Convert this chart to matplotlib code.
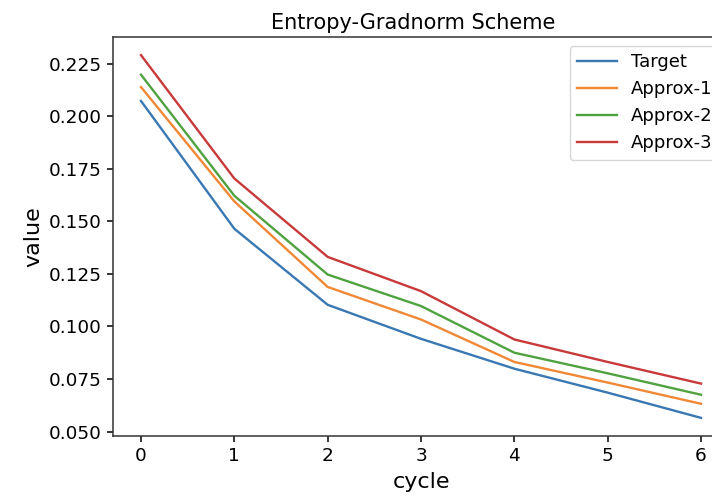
import matplotlib
matplotlib.use("Agg")
import matplotlib.pyplot as plt

cycles = [0, 1, 2, 3, 4, 5, 6]
target = [0.2073, 0.1465, 0.1103, 0.0941, 0.0799, 0.0685, 0.0565]
approx_1 = [0.2139, 0.1595, 0.1188, 0.1033, 0.0831, 0.0733, 0.0632]
approx_2 = [0.2198, 0.1622, 0.1247, 0.1097, 0.0875, 0.0777, 0.0675]
approx_3 = [0.2291, 0.1704, 0.1331, 0.1168, 0.0938, 0.0831, 0.0728]
series_labels = ["Target", "Approx-1", "Approx-2", "Approx-3"]
series_colors = ["#3a78b3", "#f18835", "#4fa23f", "#c8393a"]

fig = plt.figure(figsize=(7.12, 4.98), dpi=100)
ax = fig.add_axes([0.1587, 0.1245, 0.8652, 0.8012])

for values, label, color in zip([target, approx_1, approx_2, approx_3],
                                series_labels, series_colors):
    ax.plot(cycles, values, label=label, color=color, linewidth=1.7)

ax.set_title("Entropy-Gradnorm Scheme", fontsize=15, pad=6, x=0.487)
ax.set_xlabel("cycle", fontsize=16, labelpad=5)
ax.set_ylabel("value", fontsize=16)
ax.tick_params(labelsize=13.3, length=4.5, width=1.1)
for spine in ax.spines.values():
    spine.set_linewidth(1.1)
    spine.set_color("#333333")
ax.set_xticks(cycles)
ax.legend(loc="upper right", fontsize=13, handlelength=2.2)

fig.savefig("out.png", dpi=100)
